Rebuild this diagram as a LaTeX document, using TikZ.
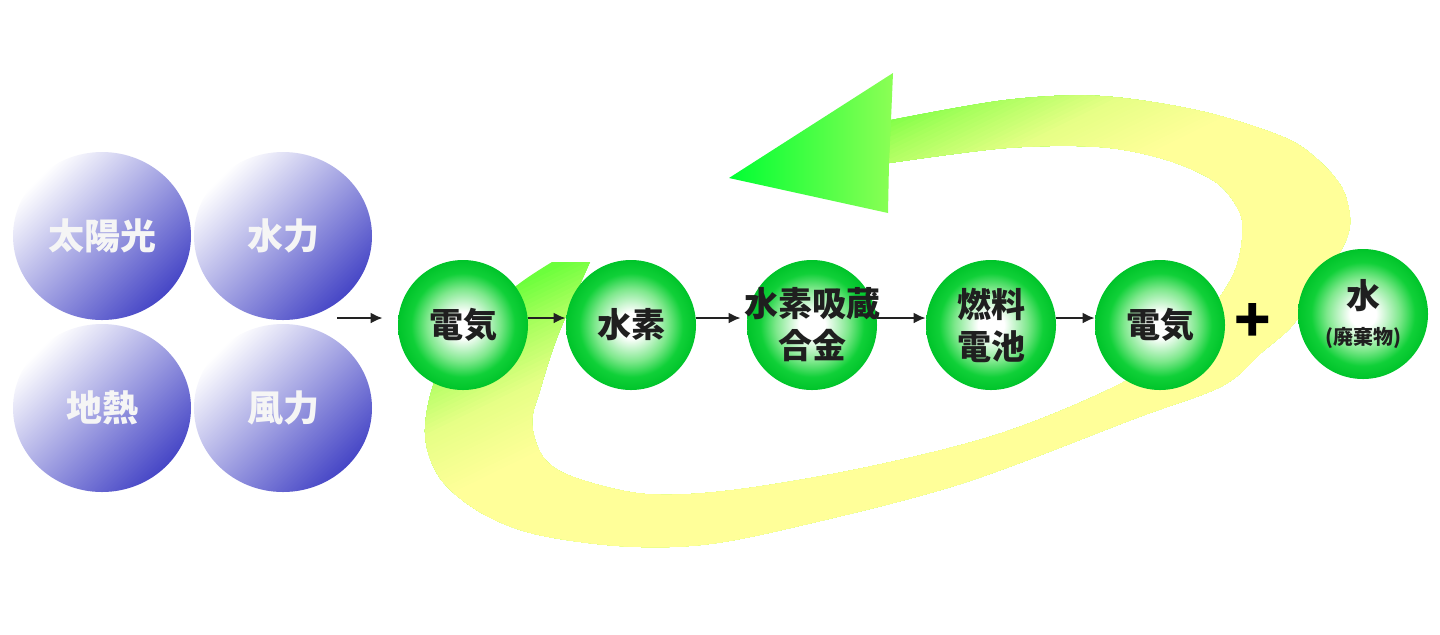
\documentclass[tikz,border=0pt]{standalone}
\usepackage{fontspec}
\newfontfamily\jp{Noto Sans CJK JP}
\usetikzlibrary{arrows.meta,calc,shapes.geometric}
\definecolor{G0}{HTML}{6CFF3C}
\definecolor{G1}{HTML}{A6FF5C}
\definecolor{G2}{HTML}{E6FF86}
\definecolor{Y}{HTML}{FFFF99}
\definecolor{AH0}{HTML}{00FF33}
\definecolor{AH1}{HTML}{44FF44}
\definecolor{AH2}{HTML}{8CFF55}
\definecolor{GB1}{HTML}{7EE88C}
\definecolor{GB2}{HTML}{10D038}
\definecolor{GB3}{HTML}{00C42A}
\definecolor{BT}{HTML}{FFFFFF}
\definecolor{BM}{HTML}{B0B0EC}
\definecolor{BB}{HTML}{4646C6}
\definecolor{arrc}{HTML}{222222}
\pgfdeclareradialshading{gball}{\pgfpoint{0bp}{0bp}}{color(0bp)=(white); color(5bp)=(white); color(14bp)=(GB1); color(20bp)=(GB2); color(25bp)=(GB3); color(50bp)=(GB3)}
\begin{document}
\begin{tikzpicture}[x=0.5pt,y=-0.5pt,
  gnode/.style={circle, minimum size=65pt, inner sep=0pt, shade, shading=gball, align=center,
    font=\jp\bfseries\fontsize{17}{21}\selectfont, text=black!88},
  bnode/.style={ellipse, minimum width=89pt, minimum height=84pt, inner sep=0pt, shade,
    top color=BT, middle color=BM, bottom color=BB, shading angle=45,
    font=\jp\bfseries\fontsize{18}{22}\selectfont, text=white!96!black},
  arr/.style={draw=arrc, line width=1pt, -{Latex[length=6pt,width=5.5pt]}},
  plusnode/.style={font=\jp\bfseries\fontsize{30}{30}\selectfont, text=black, inner sep=0pt}
]
\useasboundingbox (0,0) rectangle (1440,634);
% ring arrow body
\begin{scope}
\clip plot[smooth,tension=0.55] coordinates {(552,262) (520,283) (472,322) (437,375) (425,433) (440,478) (480,512) (535,534) (620,546) (700,545) (790,528) (960,484) (1136,418) (1222,386) (1262,352) (1290,328) (1312,298) (1332,265) (1346,240) (1350,218) (1342,188) (1318,160) (1283,137) (1200,111) (1100,96) (1006,100) (891,120)}
  -- (889,163)
  -- plot[smooth,tension=0.55] coordinates {(889,163) (1006,148) (1100,147) (1167,160) (1217,183) (1240,213) (1242,240) (1236,268) (1222,294) (1190,335) (1122,383) (1002,433) (868,467) (734,490) (645,494) (573,477) (543,457) (532,423) (540,390) (558,335) (590,262)}
  -- cycle;
\fill[G0] (0,0) rectangle (1440,634);
\foreach \k in {1,...,40}{
  \pgfmathsetmacro\tt{4*\k}
  \ifnum\k<11
    \pgfmathsetmacro\pp{10*\k}
    \colorlet{cc}{G1!\pp!G0}
  \else\ifnum\k<25
    \pgfmathsetmacro\pp{100*(\k-10)/14}
    \colorlet{cc}{G2!\pp!G1}
  \else
    \pgfmathsetmacro\pp{100*(\k-24)/16}
    \colorlet{cc}{Y!\pp!G2}
  \fi\fi
  \pgfmathsetmacro\ax{560+0.438*\tt-1348.5}
  \pgfmathsetmacro\ay{262+0.899*\tt+657}
  \pgfmathsetmacro\bx{560+0.438*\tt+1348.5}
  \pgfmathsetmacro\by{262+0.899*\tt-657}
  \fill[cc] (\ax,\ay) -- (\bx,\by) -- ++(1095,2247.5) -- ++(-2697,1314) -- cycle;
}
\end{scope}
% arrowhead
\shade[left color=AH0, middle color=AH1, right color=AH2] (729,178) -- (893,73) -- (891,120) -- (889,163) -- (888,213) -- cycle;

% energy sources
\node[bnode] (sun) at (102,236) {太陽光};
\node[bnode] (hydro) at (283,236) {水力};
\node[bnode] (geo) at (102,408) {地熱};
\node[bnode] (wind) at (283,408) {風力};

% chain
\node[gnode] (e1) at (463,325) {電気};
\node[gnode] (h2) at (631,325) {水素};
\node[gnode, inner sep=-12pt] (a3) at (812,325) {水素吸蔵\\合金};
\node[gnode] (f4) at (991,325) {燃料\\電池};
\node[gnode] (e5) at (1160,325) {電気};
\node[gnode] (w6) at (1363,314) {水\\[-3pt]{\fontsize{10}{12}\selectfont (廃棄物)}};
\node[plusnode] (plus) at (1253,323) {+};

\coordinate (src) at (337,318);
\draw[arr, shorten >=7.5pt] (src) -- (e1.west |- src);
\draw[arr] ([yshift=3.5pt]e1.east) -- ([yshift=3.5pt]h2.west);
\draw[arr] ([yshift=3.5pt]h2.east) -- ([yshift=3.5pt,xshift=-3pt]a3.west);
\draw[arr] ([yshift=3.5pt]a3.east) -- ([yshift=3.5pt]f4.west);
\draw[arr] ([yshift=3.5pt]f4.east) -- ([yshift=3.5pt]e5.west);
\end{tikzpicture}
\end{document}
